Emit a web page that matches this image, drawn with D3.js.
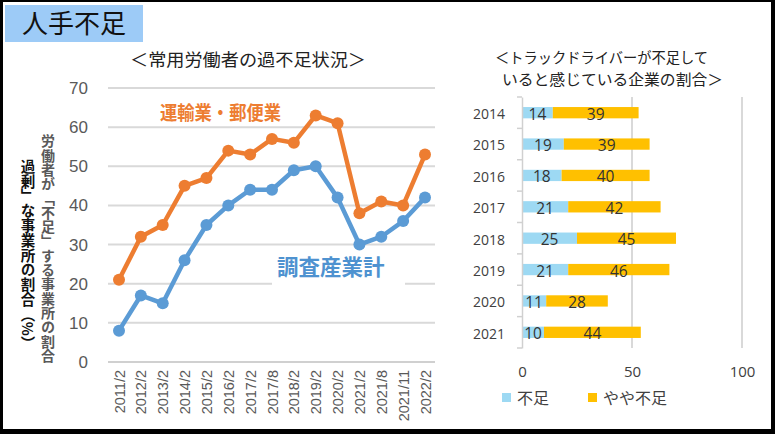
<!DOCTYPE html>
<html><head><meta charset="utf-8">
<script src="https://cdn.jsdelivr.net/npm/d3@7"></script>
<style>
html,body{margin:0;padding:0;background:#fff;}
svg{display:block;}
</style></head>
<body>
<svg id="c" width="775" height="434"></svg>
<script>
// ---- Data: left line chart ----
const periods = ["2011/2","2012/2","2013/2","2014/2","2015/2","2016/2","2017/2","2017/8","2018/2","2019/2","2020/2","2021/2","2021/8","2021/11","2022/2"];
const transportValues = [21,32,35,45,47,54,53,57,56,63,61,38,41,40,53];
const allIndustryValues = [8,17,15,26,35,40,44,44,49,50,42,30,32,36,42];
const yTicks = [0,10,20,30,40,50,60,70];

// ---- Data: right bar chart ----
const years = ["2014","2015","2016","2017","2018","2019","2020","2021"];
const shortage = [14,19,18,21,25,21,11,10];
const slightShortage = [39,39,40,42,45,46,28,44];
const xTicksBar = [0,50,100];

const svg = d3.select("#c");
const jp = "'Noto Sans CJK JP','Noto Sans',sans-serif";
const arial = "'Liberation Sans',Arial,sans-serif";

// frame
svg.append("rect").attr("x",0).attr("y",0).attr("width",775).attr("height",434).attr("fill","#fff");
svg.append("rect").attr("x",1.5).attr("y",0.5).attr("width",771.5).attr("height",430.5)
  .attr("fill","none").attr("stroke","#000").attr("stroke-width",3);
svg.append("rect").attr("x",771).attr("y",0).attr("width",4).attr("height",434).attr("fill","#000");
svg.append("rect").attr("x",0).attr("y",429).attr("width",775).attr("height",5).attr("fill","#000");

// title box
svg.append("rect").attr("x",5).attr("y",5).attr("width",138).attr("height",37).attr("fill","#9DCBF7");
svg.append("text").attr("x",22).attr("y",33).attr("font-family",jp).attr("font-size",26)
  .attr("fill","#111").text("人手不足");

// subtitle
svg.append("text").attr("x",130).attr("y",66).attr("font-family",jp)
  .attr("font-size",17.5).attr("fill","#222").attr("textLength",236).attr("lengthAdjust","spacingAndGlyphs")
  .text("＜常用労働者の過不足状況＞");

// ---- Left chart ----
const x = d3.scalePoint().domain(periods).range([119,425]);
const y = d3.scaleLinear().domain([0,70]).range([362,88]);

const gGrid = svg.append("g");
gGrid.selectAll("line").data(yTicks).join("line")
  .attr("x1",108).attr("x2",435).attr("y1",d=>y(d)).attr("y2",d=>y(d))
  .attr("stroke",d=>d===0?"#d0d0d0":"#d9d9d9").attr("stroke-width",2);

const yAxis = d3.axisLeft(y).tickValues(yTicks).tickSize(0).tickPadding(0);
const ga = svg.append("g").attr("transform","translate(88,0)").call(yAxis);
ga.select(".domain").remove();
ga.selectAll("text").attr("font-family",arial).attr("font-size",17).attr("fill","#595959");

const xAxis = d3.axisBottom(x).tickSize(0).tickPadding(0);
const gx = svg.append("g").attr("transform","translate(0,370)").call(xAxis);
gx.select(".domain").remove();
gx.selectAll("text").attr("font-family",arial).attr("font-size",14.5).attr("fill","#595959")
  .attr("transform","rotate(-90)").attr("text-anchor","end").attr("dy","0.35em").attr("x",0).attr("y",0);

// label background for 調査産業計
svg.append("rect").attr("x",272).attr("y",250).attr("width",133).attr("height",40).attr("fill","#fff");

const line = d3.line().x((d,i)=>x(periods[i])).y(d=>y(d));
const series = [
  {vals: transportValues, color:"#ED7D31"},
  {vals: allIndustryValues, color:"#5B9BD5"}
];
series.forEach(s=>{
  svg.append("path").datum(s.vals).attr("d",line).attr("fill","none")
    .attr("stroke",s.color).attr("stroke-width",4.5).attr("stroke-linejoin","round");
  svg.append("g").selectAll("circle").data(s.vals).join("circle")
    .attr("cx",(d,i)=>x(periods[i])).attr("cy",d=>y(d)).attr("r",6).attr("fill",s.color);
});

svg.append("text").attr("x",160).attr("y",120).attr("font-family",jp).attr("font-weight","bold")
  .attr("font-size",19).attr("fill","#ED7D31").attr("textLength",121).attr("lengthAdjust","spacingAndGlyphs")
  .text("運輸業・郵便業");
svg.append("text").attr("x",277).attr("y",275).attr("font-family",jp).attr("font-weight","bold")
  .attr("font-size",21.5).attr("fill","#4E92D0").text("調査産業計");

// vertical axis titles
svg.append("text").attr("x",48).attr("y",134).attr("font-family",jp).attr("font-weight","bold")
  .attr("font-size",14).attr("fill","#595959").style("writing-mode","vertical-rl")
  .style("letter-spacing","0.3px").text("労働者が「不足」する事業所の割合");
svg.append("text").attr("x",28).attr("y",159).attr("font-family",jp).attr("font-weight","bold")
  .attr("font-size",14.5).attr("fill","#111").style("writing-mode","vertical-rl")
  .style("letter-spacing","0.3px").text("過剰」な事業所の割合（%）");

// ---- Right chart ----
svg.append("text").attr("x",495).attr("y",63).attr("font-family",jp).attr("font-size",15)
  .attr("fill","#222").attr("textLength",213).attr("lengthAdjust","spacingAndGlyphs")
  .text("＜トラックドライバーが不足して");
svg.append("text").attr("x",502).attr("y",85).attr("font-family",jp).attr("font-size",15)
  .attr("fill","#222").attr("textLength",221).attr("lengthAdjust","spacingAndGlyphs")
  .text("いると感じている企業の割合＞");

const bx = d3.scaleLinear().domain([0,100]).range([522,742]);
const by = d3.scaleBand().domain(years).range([97,348]).paddingInner(0.64).paddingOuter(0.32);
const byStep = d3.scaleBand().domain(years).range([97,348]);

svg.append("g").selectAll("line").data(xTicksBar.filter(d=>d>0)).join("line")
  .attr("x1",d=>bx(d)).attr("x2",d=>bx(d)).attr("y1",97).attr("y2",348)
  .attr("stroke","#d9d9d9").attr("stroke-width",2);

// stacked bars
const stackRows = years.map((yr,i)=>({year:yr, a:shortage[i], b:slightShortage[i]}));
const gb = svg.append("g");
gb.selectAll("rect.a").data(stackRows).join("rect").attr("class","a")
  .attr("x",bx(0)).attr("y",d=>by(d.year)).attr("height",by.bandwidth())
  .attr("width",d=>bx(d.a)-bx(0)).attr("fill","#9DD9F3");
gb.selectAll("rect.b").data(stackRows).join("rect").attr("class","b")
  .attr("x",d=>bx(d.a)).attr("y",d=>by(d.year)).attr("height",by.bandwidth())
  .attr("width",d=>bx(d.a+d.b)-bx(d.a)).attr("fill","#FFC000");
gb.selectAll("text.a").data(stackRows).join("text").attr("class","a")
  .attr("x",d=>(bx(0)+bx(d.a))/2).attr("y",d=>by(d.year)+by.bandwidth()/2+7)
  .attr("text-anchor","middle").attr("font-family","'Open Sans',sans-serif").attr("font-size",15.5)
  .attr("fill","#333").text(d=>d.a);
gb.selectAll("text.b").data(stackRows).join("text").attr("class","b")
  .attr("x",d=>(bx(d.a)+bx(d.a+d.b))/2).attr("y",d=>by(d.year)+by.bandwidth()/2+7)
  .attr("text-anchor","middle").attr("font-family","'Open Sans',sans-serif").attr("font-size",15.5)
  .attr("fill","#333").text(d=>d.b);

// left axis with category ticks
const yb = d3.axisLeft(byStep).tickSize(0);
const gyb = svg.append("g").attr("transform","translate(522,0)").call(yb);
gyb.select(".domain").attr("stroke","#d0d0d0").attr("stroke-width",1.5);
gyb.selectAll("text").attr("font-family","'Open Sans',sans-serif").attr("font-size",14)
  .attr("fill","#404040").attr("x",-17).attr("dy","0.45em");
svg.append("g").selectAll("line").data(d3.range(years.length+1)).join("line")
  .attr("x1",517).attr("x2",522).attr("y1",i=>97+i*byStep.step()).attr("y2",i=>97+i*byStep.step())
  .attr("stroke","#d0d0d0").attr("stroke-width",1.5);

const xb = d3.axisBottom(bx).tickValues(xTicksBar).tickSize(0).tickPadding(0);
const gxb = svg.append("g").attr("transform","translate(0,366)").call(xb);
gxb.select(".domain").remove();
gxb.selectAll("text").attr("font-family","'Open Sans',sans-serif").attr("font-size",15).attr("fill","#404040");

// legend
const legend = [{label:"不足",color:"#9DD9F3",x:502},{label:"やや不足",color:"#FFC000",x:588}];
const gl = svg.append("g");
gl.selectAll("rect").data(legend).join("rect").attr("x",d=>d.x).attr("y",393).attr("width",9).attr("height",9).attr("fill",d=>d.color);
gl.selectAll("text").data(legend).join("text").attr("x",d=>d.x+15).attr("y",404)
  .attr("font-family",jp).attr("font-size",16).attr("fill","#404040").text(d=>d.label);
</script>
</body></html>
